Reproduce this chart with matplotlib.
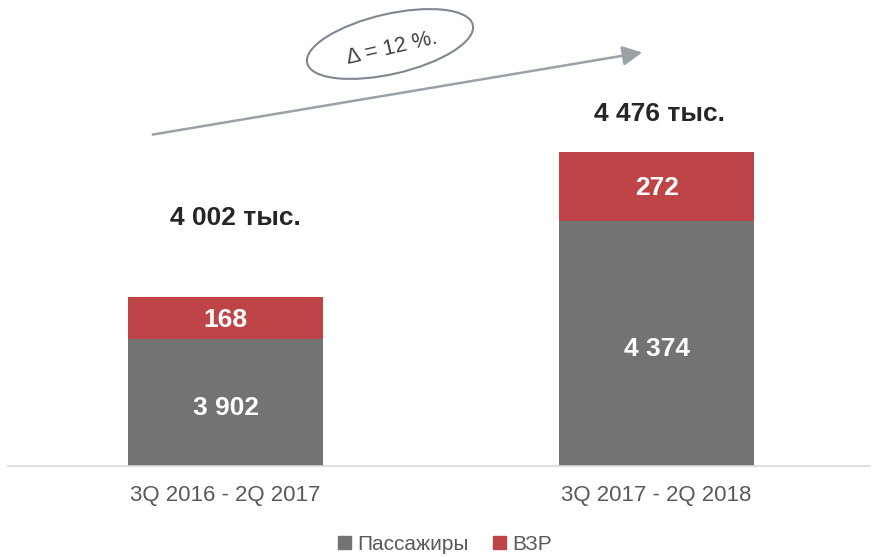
import matplotlib
matplotlib.use("Agg")
import matplotlib.pyplot as plt
from matplotlib.patches import Ellipse, Patch, FancyArrowPatch
from matplotlib.transforms import IdentityTransform

plt.rcParams['font.family'] = ['Liberation Sans', 'DejaVu Sans']

categories = ["3Q 2016 - 2Q 2017", "3Q 2017 - 2Q 2018"]
passengers = [3902, 4374]
vzr = [168, 272]
totals_text = ["4 002 тыс.", "4 476 тыс."]
passenger_labels = ["3 902", "4 374"]
vzr_labels = ["168", "272"]
series_names = ["Пассажиры", "ВЗР"]
delta_text = "Δ = 12 %."

GRAY = "#737373"
RED = "#BF4448"

W, H = 873, 557
fig = plt.figure(figsize=(W / 100, H / 100), dpi=100)
ax = fig.add_axes([8 / W, 91 / H, 862 / W, 466 / H])

x = list(range(len(categories)))
bw = 0.454
ax.bar(x, passengers, bw, color=GRAY, zorder=2)
ax.bar(x, vzr, bw, bottom=passengers, color=RED, zorder=2)

ymin = 3400
ax.set_xlim(-0.505, 1.495)
ax.set_ylim(ymin, ymin + 466 / 0.252)

for i in x:
    ax.annotate(passenger_labels[i], xy=(i, (ymin + passengers[i]) / 2),
                xytext=(0, -4), textcoords='offset points',
                ha='center', va='center', color='white', fontsize=19, fontweight='bold')
    ax.annotate(vzr_labels[i], xy=(i, passengers[i] + vzr[i] / 2),
                xytext=(0, -1), textcoords='offset points',
                ha='center', va='center', color='white', fontsize=19, fontweight='bold')

offsets = [(10, 79), (3, 38)]
for i in x:
    ax.annotate(totals_text[i], xy=(i, passengers[i] + vzr[i]),
                xytext=(offsets[i][0] * 0.72, offsets[i][1] * 0.72), textcoords='offset points',
                ha='center', va='center', fontsize=19, fontweight='bold', color='#262626')

for s in ['top', 'right', 'left']:
    ax.spines[s].set_visible(False)
ax.spines['bottom'].set_color('#D9D9D9')
ax.spines['bottom'].set_linewidth(1.2)
ax.set_yticks([])
ax.set_xticks(x)
ax.set_xticklabels(categories, fontsize=16, color='#595959')
ax.tick_params(axis='x', length=0, pad=14)

# arrow
arrow = FancyArrowPatch(
    (150, H - 135), (645, H - 52), transform=IdentityTransform(),
    arrowstyle='-|>,head_length=8,head_width=4', color='#9AA2A8', lw=1.8,
    mutation_scale=1.5)
arrow.set_figure(fig)
fig.patches.append(arrow)

ell = Ellipse((390, H - 44), 170, 60, angle=13, transform=IdentityTransform(),
              fill=False, edgecolor='#7F8790', lw=1.5)
ell.set_figure(fig)
fig.patches.append(ell)
fig.text(392 / W, 1 - 48 / H, delta_text, rotation=13, ha='center', va='center',
         fontsize=15.5, color='#404040')

handles = [Patch(color=GRAY), Patch(color=RED)]
fig.legend(handles, series_names, loc='center', bbox_to_anchor=(445 / W, 1 - 544 / H),
           ncol=2, frameon=False, fontsize=15, handlelength=0.6, handleheight=0.6,
           handletextpad=0.3, columnspacing=1.2, labelcolor='#595959')

fig.savefig("out.png", dpi=100)
